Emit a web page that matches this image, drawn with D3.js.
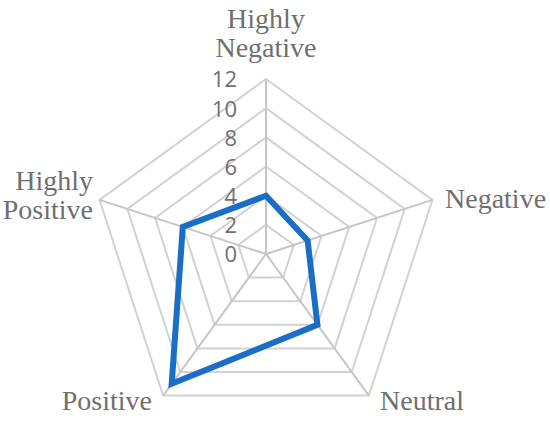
<!DOCTYPE html>
<html>
<head>
<meta charset="utf-8">
<script src="https://cdn.jsdelivr.net/npm/d3@7"></script>
<style>
  html, body { margin: 0; padding: 0; background: #fff; }
</style>
</head>
<body>
<svg id="chart"></svg>
<script>
const categories = ['Highly Negative', 'Negative', 'Neutral', 'Positive', 'Highly Positive'];
const values = [4, 3, 6, 11, 6];
const ticks = [0, 2, 4, 6, 8, 10, 12];

const width = 550;
const height = 424;
const cx = 266;
const cy = 254;
const radius = 175;

const svg = d3.select('#chart')
  .attr('width', width)
  .attr('height', height);

const g = svg.append('g').attr('transform', `translate(${cx},${cy})`);

const r = d3.scaleLinear().domain([0, 12]).range([0, radius]);
const angle = d3.scaleLinear().domain([0, categories.length]).range([0, 2 * Math.PI]);

const pt = (i, v) => [r(v) * Math.sin(angle(i)), -r(v) * Math.cos(angle(i))];

// grid rings
g.append('g')
  .selectAll('polygon')
  .data(ticks.filter((t) => t > 0))
  .join('polygon')
  .attr('points', (t) => categories.map((c, i) => pt(i, t).join(',')).join(' '))
  .attr('fill', 'none')
  .attr('stroke', '#d2d2d2')
  .attr('stroke-width', 2);

// spokes
g.append('g')
  .selectAll('line')
  .data(categories)
  .join('line')
  .attr('x1', 0)
  .attr('y1', 0)
  .attr('x2', (c, i) => pt(i, 12)[0])
  .attr('y2', (c, i) => pt(i, 12)[1])
  .attr('stroke', '#c6c6c6')
  .attr('stroke-width', 2);

// tick labels
g.append('g')
  .selectAll('text')
  .data(ticks)
  .join('text')
  .attr('x', -29)
  .attr('y', (t) => -r(t))
  .attr('dy', '0.38em')
  .attr('text-anchor', 'end')
  .attr('font-family', 'Open Sans, Noto Sans, sans-serif')
  .attr('font-size', 22)
  .attr('fill', '#6f6f6f')
  .text((t) => t);

// series
const line = d3.line().curve(d3.curveLinearClosed);
g.append('path')
  .datum(values.map((v, i) => pt(i, v)))
  .attr('d', line)
  .attr('fill', 'none')
  .attr('stroke', '#1b6ec6')
  .attr('stroke-width', 6)
  .attr('stroke-linejoin', 'miter');

// category labels
const labelPos = [
  { x: 0, y: -236, anchor: 'middle', lines: ['Highly', 'Negative'] },
  { x: 179, y: -56, anchor: 'start', lines: ['Negative'] },
  { x: 114, y: 146, anchor: 'start', lines: ['Neutral'] },
  { x: -114, y: 146, anchor: 'end', lines: ['Positive'] },
  { x: -173, y: -74, anchor: 'end', lines: ['Highly', 'Positive'] },
];

const labels = g.append('g')
  .selectAll('text')
  .data(categories)
  .join('text')
  .attr('x', (c, i) => labelPos[i].x)
  .attr('y', (c, i) => labelPos[i].y)
  .attr('text-anchor', (c, i) => labelPos[i].anchor)
  .attr('font-family', 'Liberation Serif, DejaVu Serif, serif')
  .attr('font-size', 28)
  .attr('fill', '#6f6f6f');

labels.each(function (c, i) {
  const el = d3.select(this);
  labelPos[i].lines.forEach((l, k) => {
    el.append('tspan')
      .attr('x', labelPos[i].x)
      .attr('dy', k === 0 ? '0.35em' : '1.05em')
      .text(l);
  });
});
</script>
</body>
</html>
